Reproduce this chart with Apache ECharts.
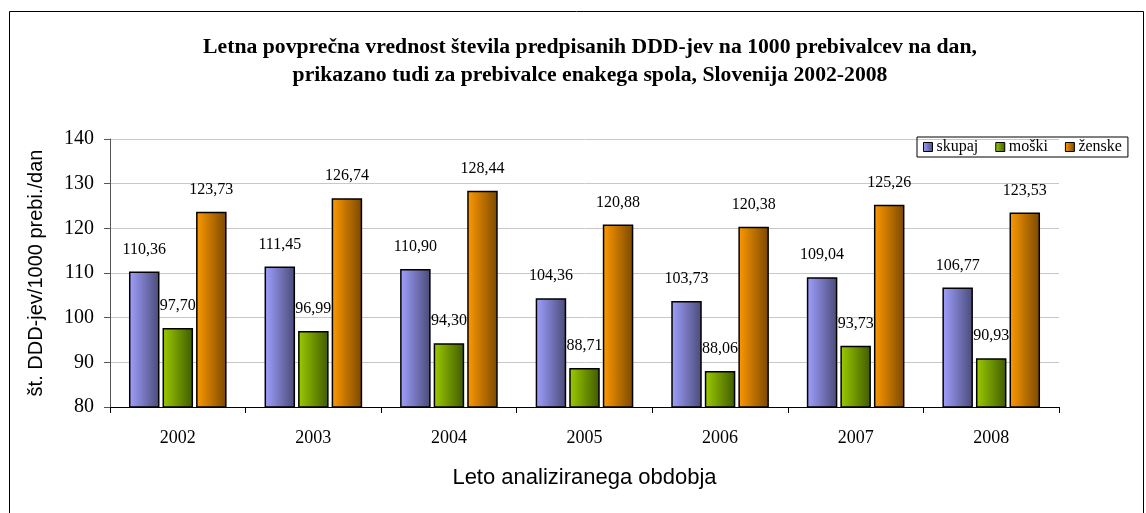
<!DOCTYPE html>
<html>
<head>
<meta charset="utf-8">
<script src="https://cdn.jsdelivr.net/npm/echarts@6/dist/echarts.min.js"></script>
<style>
  html, body { margin: 0; padding: 0; background: #fff; }
  #chart { width: 1146px; height: 513px; }
</style>
</head>
<body>
<div id="chart"></div>
<script>
// leta
const years = ["2002", "2003", "2004", "2005", "2006", "2007", "2008"];
const skupaj = [110.36, 111.45, 110.9, 104.36, 103.73, 109.04, 106.77];
const moski = [97.7, 96.99, 94.3, 88.71, 88.06, 93.73, 90.93];
const zenske = [123.73, 126.74, 128.44, 120.88, 120.38, 125.26, 123.53];
const yTicks = [80, 90, 100, 110, 120, 130, 140];

const chart = echarts.init(document.getElementById("chart"));

function barSeries(name, data, light, dark) {
  return {
    name: name,
    type: "bar",
    data: data,
    barGap: "10%",
    barCategoryGap: "28%",
    itemStyle: {
      // svetlo levo -> temno desno
      color: new echarts.graphic.LinearGradient(0, 0, 1, 0, [
        { offset: 0, color: light },
        { offset: 1, color: dark },
      ]),
      borderColor: "#000",
      borderWidth: 1.5,
    },
    label: {
      show: true,
      position: "top",
      distance: 14,
      fontFamily: "Liberation Serif",
      fontSize: 16,
      color: "#000",
      // decimalna vejica
      formatter: (p) => p.value.toFixed(2).replace(".", ","),
    },
  };
}

const option = {
  animation: false,
  title: {
    text: "Letna povprečna vrednost števila predpisanih DDD-jev na 1000 prebivalcev na dan,\nprikazano tudi za prebivalce enakega spola, Slovenija 2002-2008",
    left: 585,
    top: 28,
    textAlign: "center",
    textStyle: {
      fontFamily: "Liberation Serif",
      fontWeight: "bold",
      fontSize: 21.7,
      lineHeight: 28,
      color: "#000",
    },
  },
  graphic: [
    {
      type: "rect",
      shape: { x: 9.5, y: 11.5, width: 1134, height: 510 },
      style: { fill: "none", stroke: "#000", lineWidth: 1 },
      silent: true,
    },
  ],
  legend: {
    left: 917,
    top: 137,
    orient: "horizontal",
    icon: "rect",
    itemWidth: 9,
    itemHeight: 9,
    itemGap: 17,
    padding: [2, 6, 2, 6],
    borderColor: "#000",
    borderWidth: 1,
    itemStyle: { borderColor: "#000", borderWidth: 1 },
    textStyle: {
      fontFamily: "Liberation Serif",
      fontSize: 16,
      color: "#000",
      padding: [0, 0, 0, -1],
    },
    data: ["skupaj", "moški", "ženske"],
  },
  grid: {
    left: 110,
    right: 87,
    top: 139,
    bottom: 106,
  },
  xAxis: {
    type: "category",
    data: years,
    name: "Leto analiziranega obdobja",
    nameLocation: "middle",
    nameGap: 60,
    nameTextStyle: {
      fontFamily: "Liberation Sans",
      fontSize: 22,
      color: "#000",
    },
    axisLine: { lineStyle: { color: "#000", width: 1 } },
    axisTick: { show: true, length: 6, lineStyle: { color: "#000" } },
    axisLabel: {
      margin: 22,
      fontFamily: "Liberation Serif",
      fontSize: 18,
      color: "#000",
    },
  },
  yAxis: {
    type: "value",
    min: yTicks[0],
    max: yTicks[yTicks.length - 1],
    interval: 10,
    name: "št. DDD-jev/1000 prebi./dan",
    nameLocation: "middle",
    nameGap: 64,
    nameTextStyle: {
      fontFamily: "Liberation Sans",
      fontSize: 20,
      color: "#000",
    },
    axisLine: { show: true, lineStyle: { color: "#555", width: 1 } },
    axisTick: { show: true, length: 6, lineStyle: { color: "#555" } },
    axisLabel: {
      margin: 16,
      fontFamily: "Liberation Serif",
      fontSize: 20,
      color: "#000",
    },
    splitLine: { lineStyle: { color: "#c8c8c8", width: 1 } },
  },
  series: [
    barSeries("skupaj", skupaj, "#a0a0ff", "#4a4a78"),
    barSeries("moški", moski, "#9ccc00", "#3f5a00"),
    barSeries("ženske", zenske, "#ff9a00", "#7a4800"),
  ],
};

chart.setOption(option);
</script>
</body>
</html>
